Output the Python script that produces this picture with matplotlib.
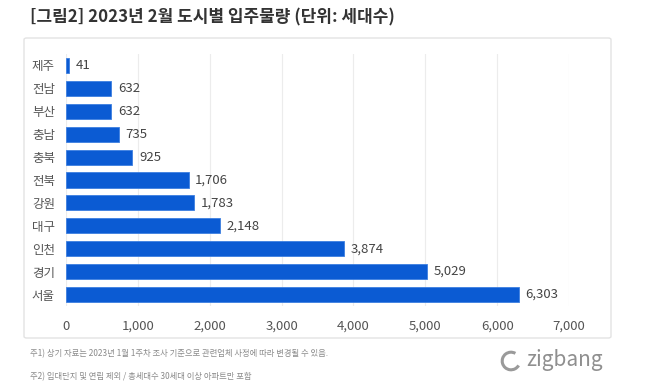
import matplotlib.pyplot as plt
from matplotlib.patches import FancyBboxPatch, Arc

plt.rcParams['font.family'] = ['Noto Sans CJK KR', 'DejaVu Sans']

regions = ['제주', '전남', '부산', '충남', '충북', '전북', '강원', '대구', '인천', '경기', '서울']
units = [41, 632, 632, 735, 925, 1706, 1783, 2148, 3874, 5029, 6303]
xticks = [0, 1000, 2000, 3000, 4000, 5000, 6000, 7000]

W, H = 666, 392
fig = plt.figure(figsize=(W / 100, H / 100), dpi=100)
fig.patch.set_facecolor('white')

# outer box
box = FancyBboxPatch((24 / W, 1 - 338 / H), 587 / W, 300 / H,
                     boxstyle='round,pad=0,rounding_size=0.004',
                     transform=fig.transFigure, fill=False,
                     edgecolor='#e3e3e3', linewidth=1.0)
fig.add_artist(box)

fig.text(30 / W, 1 - 17 / H, '[그림2] 2023년 2월 도시별 입주물량 (단위: 세대수)',
         fontsize=12.2, fontweight='bold', color='#333333', va='center', ha='left')

ax = fig.add_axes([66 / W, 1 - 306 / H, (569 - 66) / W, (306 - 54) / H])
y = list(range(len(regions)))
ax.barh(y, units, height=0.66, color='#0b5bd3', edgecolor='#3d7fe0', linewidth=0.6, zorder=3)
for yi, v in zip(y, units):
    ax.text(v + 90, yi, f'{v:,}', va='center', ha='left', fontsize=9.5, color='#444444')

ax.set_xlim(0, 7000)
ax.set_ylim(len(regions) - 0.5, -0.5)
ax.set_yticks(y)
ax.set_yticklabels(regions, fontsize=9, color='#555555')
ax.set_xticks(xticks)
ax.set_xticklabels([f'{t:,}' for t in xticks], fontsize=9.5, color='#555555')
ax.tick_params(length=0, pad=10)
ax.tick_params(axis='y', pad=8)
ax.grid(axis='x', color='#ececec', linewidth=0.8, zorder=0)
for s in ax.spines.values():
    s.set_visible(False)

fig.text(30 / W, 1 - 354 / H, '주1) 상기 자료는 2023년 1월 1주차 조사 기준으로 관련업체 사정에 따라 변경될 수 있음.',
         fontsize=6.0, color='#8a8a8a', va='center')
fig.text(30 / W, 1 - 377 / H, '주2) 임대단지 및 연립 제외 / 총세대수 30세대 이상 아파트만 포함',
         fontsize=6.0, color='#8a8a8a', va='center')

# zigbang logo
logo = fig.add_axes([500 / W, 1 - 372 / H, 22 / W, 22 / H])
logo.add_patch(Arc((0.5, 0.5), 0.8, 0.8, theta1=60, theta2=330, color='#9a9a9a', linewidth=2.2))
logo.set_xlim(0, 1)
logo.set_ylim(0, 1)
logo.axis('off')
fig.text(526 / W, 1 - 360 / H, 'zigbang', fontsize=15, color='#8f8f8f', va='center', ha='left')

fig.savefig('out.png', dpi=100, facecolor='white')
